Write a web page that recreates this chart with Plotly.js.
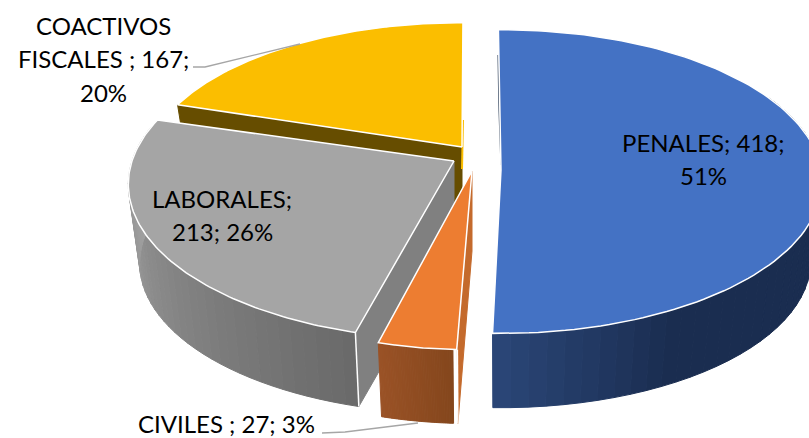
<!DOCTYPE html>
<html>
<head>
<meta charset="utf-8">
<script src="https://cdn.plot.ly/plotly-3.0.1.min.js"></script>
<style>html,body{margin:0;padding:0;background:#fff;overflow:hidden}</style>
</head>
<body>
<div id="chart" style="width:809px;height:438px"></div>
<script>
// Data
var categories = ['PENALES', 'CIVILES', 'LABORALES', 'COACTIVOS FISCALES'];
var values = [418, 27, 213, 167];
var percents = [51, 3, 26, 20];
var labelLines = [
  ['PENALES; 418;', '51%'],
  ['CIVILES ; 27; 3%'],
  ['LABORALES;', '213; 26%'],
  ['COACTIVOS', 'FISCALES ; 167;', '20%']
];

// 3D pie look: one ellipse per exploded slice (index order as categories)
var topColors = ['#4472C4', '#ED7D31', '#A5A5A5', '#FBBE00'];
var geom = [
  {cx: 501, cy: 170, R: 320, ry: 151, k: 0.076, a0: -0.5, a1: -1.0, D: 80, w0: 60, w1: 183, c0: '#2A4576', c1: '#1A2D50', cEnd: 0.25},
  {cx: 472, cy: 171, R: 310, ry: 152, k: 0.15, a0: -0.1, a1: 0.8, D: 80, w0: 183, w1: 196, c0: '#84461C', c1: '#9A5226', cEnd: 1},
  {cx: 454, cy: 161, R: 322, ry: 152, k: 0.15, a0: 1.0, a1: -0.8, D: 80, w0: 195, w1: 284, c0: '#6A6A6A', c1: '#A8A8A8', cEnd: 1},
  {cx: 462, cy: 147, R: 313, ry: 143, k: 0.15, a0: 0.9, a1: 0.2, D: 60, w0: 288, w1: 288, c0: '#664D00', c1: '#664D00', cEnd: 1}
];
var BOTTOM = 0.965;
var drawOrder = [3, 2, 0, 1];

var total = values.reduce(function (a, b) { return a + b; }, 0);
var starts = [], acc = 0;
values.forEach(function (v) { starts.push(acc / total * 360); acc += v; });

function pt(g, deg, bottom) {
  var t = deg * Math.PI / 180, X = Math.sin(t), Y = -Math.cos(t);
  var s = 1 / (1 - g.k * Y), m = bottom ? BOTTOM : 1;
  return [g.cx + X * g.R * s * m, g.cy + Y * g.ry * s * m + (bottom ? g.D : 0)];
}
function apex(g, bottom) { return [g.cx, g.cy + (bottom ? g.D : 0)]; }
function hex(c) { return [1, 3, 5].map(function (i) { return parseInt(c.substr(i, 2), 16); }); }
function mix(a, b, t) {
  var A = hex(a), B = hex(b);
  return 'rgb(' + A.map(function (v, i) { return Math.round(v + (B[i] - v) * t); }).join(',') + ')';
}
function poly(points, fill, lineColor, lineWidth) {
  var closed = points.concat([points[0]]);
  return {
    type: 'scatter', mode: 'lines', fill: 'toself', fillcolor: fill,
    x: closed.map(function (p) { return p[0]; }),
    y: closed.map(function (p) { return p[1]; }),
    line: {color: lineColor || fill, width: lineWidth === undefined ? 1 : lineWidth},
    hoverinfo: 'skip', showlegend: false
  };
}
function line(points, color, width) {
  return {
    type: 'scatter', mode: 'lines',
    x: points.map(function (p) { return p[0]; }),
    y: points.map(function (p) { return p[1]; }),
    line: {color: color, width: width}, hoverinfo: 'skip', showlegend: false
  };
}

var traces = [];
drawOrder.forEach(function (i) {
  var g = geom[i];
  var a0 = starts[i] + g.a0;
  var a1 = starts[i] + values[i] / total * 360 + g.a1;
  var k, n = 40;

  // flat cut walls
  if (i === 3) {
    traces.push(poly([pt(g, a0), apex(g), apex(g, true), pt(g, a0, true)], '#664D00'));
  }
  if (i === 2) {
    traces.push(poly([apex(g), pt(g, a0), pt(g, a0, true), apex(g, true)], '#808080'));
  }
  if (i === 1) {
    traces.push(poly([apex(g), pt(g, a0), pt(g, a0, true), apex(g, true)], '#C46A2C'));
  }

  // curved outer wall, shaded step by step
  if (g.w1 > g.w0) {
    var w0 = Math.max(g.w0, a0), w1 = Math.min(g.w1, a1);
    for (k = 0; k < n; k++) {
      var b0 = w0 + (w1 - w0) * k / n, b1 = w0 + (w1 - w0) * (k + 1) / n;
      var t = k / (n - 1);
      var col = i === 0 ? mix(g.c1, g.c0, Math.max(0, Math.min(1, (t - (1 - g.cEnd)) / g.cEnd))) : mix(g.c0, g.c1, t);
      traces.push(poly([pt(g, b0), pt(g, b1), pt(g, b1, true), pt(g, b0, true)], col));
    }
  }

  // slivers of the inner faces seen beside the top faces
  if (i === 3) traces.push(line([[463, 120], [462, 169]], '#FBBE00', 2));
  if (i === 0) traces.push(line([[498, 55], [499, 110], [501, 165]], '#44546A', 1.2));

  // top face
  var face = [apex(g)];
  for (k = 0; k <= 120; k++) face.push(pt(g, a0 + (a1 - a0) * k / 120));
  traces.push(poly(face, topColors[i], '#FFFFFF', 1.5));

  // white vertical corner edges
  if (i === 2 || i === 1) traces.push(line([pt(g, a0), pt(g, a0, true)], '#FFFFFF', 1.5));
});

// leader lines
traces.push(line([[193, 67], [205, 67], [300, 44]], '#A6A6A6', 1.3));
traces.push(line([[322, 433], [345, 432], [418, 423]], '#A6A6A6', 1.3));

// data labels, one annotation per line for the wide line pitch
var labelCentres = [[703, 142], [226, 423], [222, 198], [103, 25]];
var PITCH = 33.5;
var annotations = [];
labelLines.forEach(function (lines, i) {
  lines.forEach(function (txt, j) {
    annotations.push({
      x: labelCentres[i][0], y: labelCentres[i][1] + j * PITCH,
      xref: 'x', yref: 'y', text: txt, showarrow: false,
      font: {family: 'Lato, Carlito, sans-serif', size: 24, color: '#000000'},
      xanchor: 'center', yanchor: 'middle'
    });
  });
});

Plotly.newPlot('chart', traces, {
  width: 809, height: 438,
  margin: {l: 0, r: 0, t: 0, b: 0},
  paper_bgcolor: '#FFFFFF', plot_bgcolor: '#FFFFFF',
  showlegend: false,
  xaxis: {range: [0, 809], visible: false, fixedrange: true},
  yaxis: {range: [438, 0], visible: false, fixedrange: true},
  annotations: annotations
}, {displayModeBar: false, staticPlot: true});
</script>
</body>
</html>
